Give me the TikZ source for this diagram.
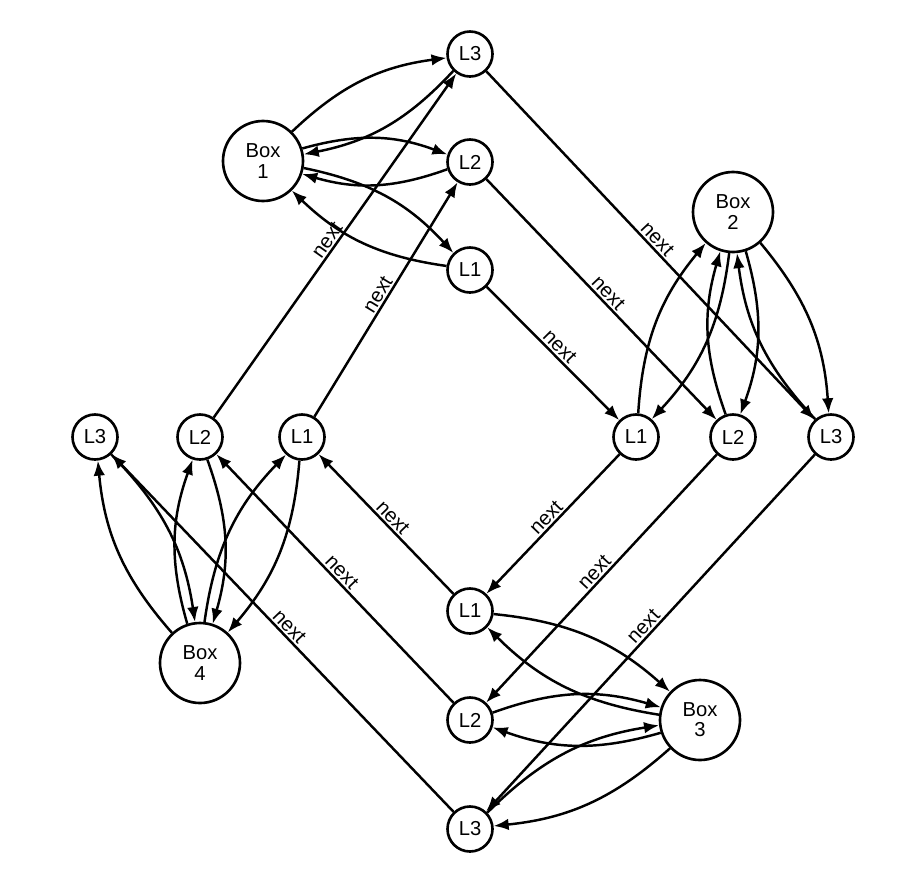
\documentclass[tikz,border=0pt]{standalone}
\usepackage{fontspec}
\setmainfont{Liberation Sans}
\usepackage{tikz}
\usetikzlibrary{arrows.meta}

\begin{document}
\begin{tikzpicture}[
  box/.style={draw, circle, line width=1.5pt, minimum size=1.6cm, inner sep=0pt, align=center, font=\fontsize{11.5}{11.5}\selectfont},
  cell/.style={draw, circle, line width=1.5pt, minimum size=0.9cm, inner sep=0pt, font=\fontsize{11.5}{12}\selectfont},
  arrow/.style={-{Latex[length=3mm, width=2.3mm]}, line width=1.4pt},
  ptr/.style={arrow},
  lbl/.style={midway, above, sloped, inner sep=1pt, font=\fontsize{11.5}{12}\selectfont}
]
\useasboundingbox (0,0) rectangle (18.44,-17.66);

% box 1 and its three cells
\node[box] (box1) at (5.26,-3.22) {Box\\1};
\node[cell] (box1L3) at (9.4,-1.08) {L3};
\node[cell] (box1L2) at (9.4,-3.24) {L2};
\node[cell] (box1L1) at (9.4,-5.4) {L1};

% box 2
\node[box] (box2) at (14.66,-4.24) {Box\\2};
\node[cell] (box2L1) at (12.72,-8.74) {L1};
\node[cell] (box2L2) at (14.66,-8.74) {L2};
\node[cell] (box2L3) at (16.62,-8.74) {L3};

% box 3
\node[box] (box3) at (14.0,-14.4) {Box\\3};
\node[cell] (box3L1) at (9.4,-12.22) {L1};
\node[cell] (box3L2) at (9.4,-14.4) {L2};
\node[cell] (box3L3) at (9.4,-16.58) {L3};

% box 4
\node[box] (box4) at (4.0,-13.26) {Box\\4};
\node[cell] (box4L3) at (1.9,-8.74) {L3};
\node[cell] (box4L2) at (4.0,-8.74) {L2};
\node[cell] (box4L1) at (6.04,-8.74) {L1};

% box <-> cell links
\draw[arrow] (box1) to[bend left=18] (box1L3);
\draw[arrow] (box1L3) to[bend left=18] (box1);
\draw[arrow] (box1) to[bend left=18] (box1L2);
\draw[arrow] (box1L2) to[bend left=18] (box1);
\draw[arrow] (box1) to[bend left=18] (box1L1);
\draw[arrow] (box1L1) to[bend left=18] (box1);

\draw[arrow] (box2) to[bend left=18] (box2L1);
\draw[arrow] (box2L1) to[bend left=18] (box2);
\draw[arrow] (box2) to[bend left=18] (box2L2);
\draw[arrow] (box2L2) to[bend left=18] (box2);
\draw[arrow] (box2) to[bend left=18] (box2L3);
\draw[arrow] (box2L3) to[bend left=18] (box2);

\draw[arrow] (box3) to[bend left=18] (box3L1);
\draw[arrow] (box3L1) to[bend left=18] (box3);
\draw[arrow] (box3) to[bend left=18] (box3L2);
\draw[arrow] (box3L2) to[bend left=18] (box3);
\draw[arrow] (box3) to[bend left=18] (box3L3);
\draw[arrow] (box3L3) to[bend left=18] (box3);

\draw[arrow] (box4) to[bend left=18] (box4L1);
\draw[arrow] (box4L1) to[bend left=18] (box4);
\draw[arrow] (box4) to[bend left=18] (box4L2);
\draw[arrow] (box4L2) to[bend left=18] (box4);
\draw[arrow] (box4) to[bend left=18] (box4L3);
\draw[arrow] (box4L3) to[bend left=18] (box4);

% next pointers
\draw[ptr] (box1L1) -- (box2L1) node[lbl] {next};
\draw[ptr] (box1L2) -- (box2L2) node[lbl] {next};
\draw[ptr] (box1L3) -- (box2L3) node[lbl] {next};
\draw[ptr] (box2L1) -- (box3L1) node[lbl] {next};
\draw[ptr] (box2L2) -- (box3L2) node[lbl] {next};
\draw[ptr] (box2L3) -- (box3L3) node[lbl] {next};
\draw[ptr] (box3L1) -- (box4L1) node[lbl] {next};
\draw[ptr] (box3L2) -- (box4L2) node[lbl] {next};
\draw[ptr] (box3L3) -- (box4L3) node[lbl] {next};
\draw[ptr] (box4L1) -- (box1L2) node[lbl] {next};
\draw[ptr] (box4L2) -- (box1L3) node[lbl] {next};

\end{tikzpicture}
\end{document}
